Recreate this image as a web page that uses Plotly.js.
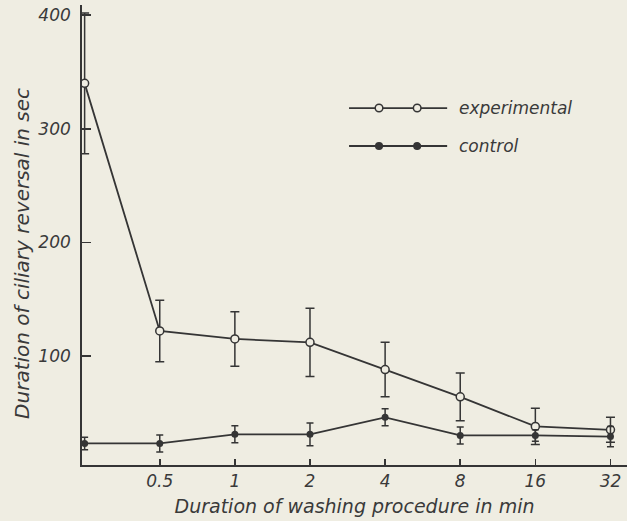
<!DOCTYPE html>
<html>
<head>
<meta charset="utf-8">
<script src="https://cdn.plot.ly/plotly-3.0.1.min.js"></script>
<style>
html,body{margin:0;padding:0;background:#efede2;}
#chart{width:627px;height:521px;}
</style>
</head>
<body>
<div id="chart"></div>
<script>
// washing duration categories (min); first point = unwashed (no label)
const washTimes = ['0', '0.5', '1', '2', '4', '8', '16', '32'];
const tickLabels = ['0.5', '1', '2', '4', '8', '16', '32'];

// experimental series: mean and error (sec)
const expMean = [340, 122, 115, 112, 88, 64, 38, 35];
const expErr  = [62, 27, 24, 30, 24, 21, 16, 11];

// control series
const ctlMean = [23, 23, 31, 31, 46, 30, 30, 29];
const ctlErr  = [5.5, 7.5, 7.5, 10, 7.5, 7.5, 5, 9];

const ink = '#353535';
const bg = '#efede2';
const fontFam = '"DejaVu Sans", sans-serif';

const traces = [
  {
    x: washTimes, y: expMean, name: 'experimental', type: 'scatter', mode: 'lines+markers',
    line: {color: ink, width: 1.8},
    marker: {symbol: 'circle', size: 8, color: bg, line: {color: ink, width: 1.5}},
    error_y: {type: 'data', array: expErr, visible: true, color: ink, thickness: 1.5, width: 4.5},
    showlegend: false
  },
  {
    x: washTimes, y: ctlMean, name: 'control', type: 'scatter', mode: 'lines+markers',
    line: {color: ink, width: 1.8},
    marker: {symbol: 'circle', size: 7, color: ink},
    error_y: {type: 'data', array: ctlErr, visible: true, color: ink, thickness: 1.5, width: 3.5},
    showlegend: false
  }
];

// legend drawn as shapes/annotations (two markers per sample line, as in the original)
const legendItems = [
  {label: 'experimental', y: 0.776, open: true},
  {label: 'control', y: 0.6935, open: false}
];
const shapes = [];
const annotations = [];
legendItems.forEach(it => {
  shapes.push({type: 'line', xref: 'paper', yref: 'paper', x0: 0.490, x1: 0.670, y0: it.y, y1: it.y,
               line: {color: ink, width: 1.8}});
  [0.545, 0.615].forEach(mx => {
    const r = it.open ? 3.8 : 3.3;
    shapes.push({type: 'circle', xref: 'paper', yref: 'paper', xsizemode: 'pixel', ysizemode: 'pixel',
                 xanchor: mx, yanchor: it.y, x0: -r, x1: r, y0: -r, y1: r,
                 fillcolor: it.open ? bg : ink, line: {color: ink, width: 1.5}});
  });
  annotations.push({xref: 'paper', yref: 'paper', x: 0.688, y: it.y, xanchor: 'left', yanchor: 'middle',
                    text: '<i>' + it.label + '</i>', showarrow: false,
                    font: {family: fontFam, size: 17, color: '#3a3a3a'}});
});
// y-axis title (placed as in original, slightly below plot centre)
annotations.push({xref: 'paper', yref: 'paper', x: -0.11, y: 0.459, xanchor: 'center', yanchor: 'middle',
                  textangle: -90, showarrow: false,
                  text: '<i>Duration of ciliary reversal in sec</i>',
                  font: {family: fontFam, size: 20, color: '#3a3a3a'}});

const layout = {
  width: 627, height: 521,
  paper_bgcolor: bg, plot_bgcolor: bg,
  margin: {l: 82, r: 0, t: 5, b: 56},
  font: {family: fontFam, color: '#3a3a3a'},
  showlegend: false,
  xaxis: {
    type: 'category', range: [-0.035, 7.22],
    tickvals: tickLabels, ticktext: tickLabels.map(t => '<i>' + t + '</i>'),
    ticks: 'inside', ticklen: 6, tickwidth: 1.5, tickcolor: ink,
    showline: true, linecolor: ink, linewidth: 1.8, showgrid: false, zeroline: false,
    tickfont: {family: fontFam, size: 17, color: '#3a3a3a'},
    title: {text: '<i>Duration of washing procedure in min</i>', standoff: 9,
            font: {family: fontFam, size: 19, color: '#3a3a3a'}}
  },
  yaxis: {
    range: [4, 409],
    tickvals: [100, 200, 300, 400], ticktext: ['<i>100</i>', '<i>200</i>', '<i>300</i>', '<i>400</i>'],
    ticks: 'inside', ticklen: 9, tickwidth: 1.5, tickcolor: ink,
    ticklabelstandoff: 6,
    showline: true, linecolor: ink, linewidth: 1.8, showgrid: false, zeroline: false,
    tickfont: {family: fontFam, size: 17, color: '#3a3a3a'}
  },
  shapes: shapes,
  annotations: annotations
};

Plotly.newPlot('chart', traces, layout, {displayModeBar: false, staticPlot: true});
</script>
</body>
</html>
